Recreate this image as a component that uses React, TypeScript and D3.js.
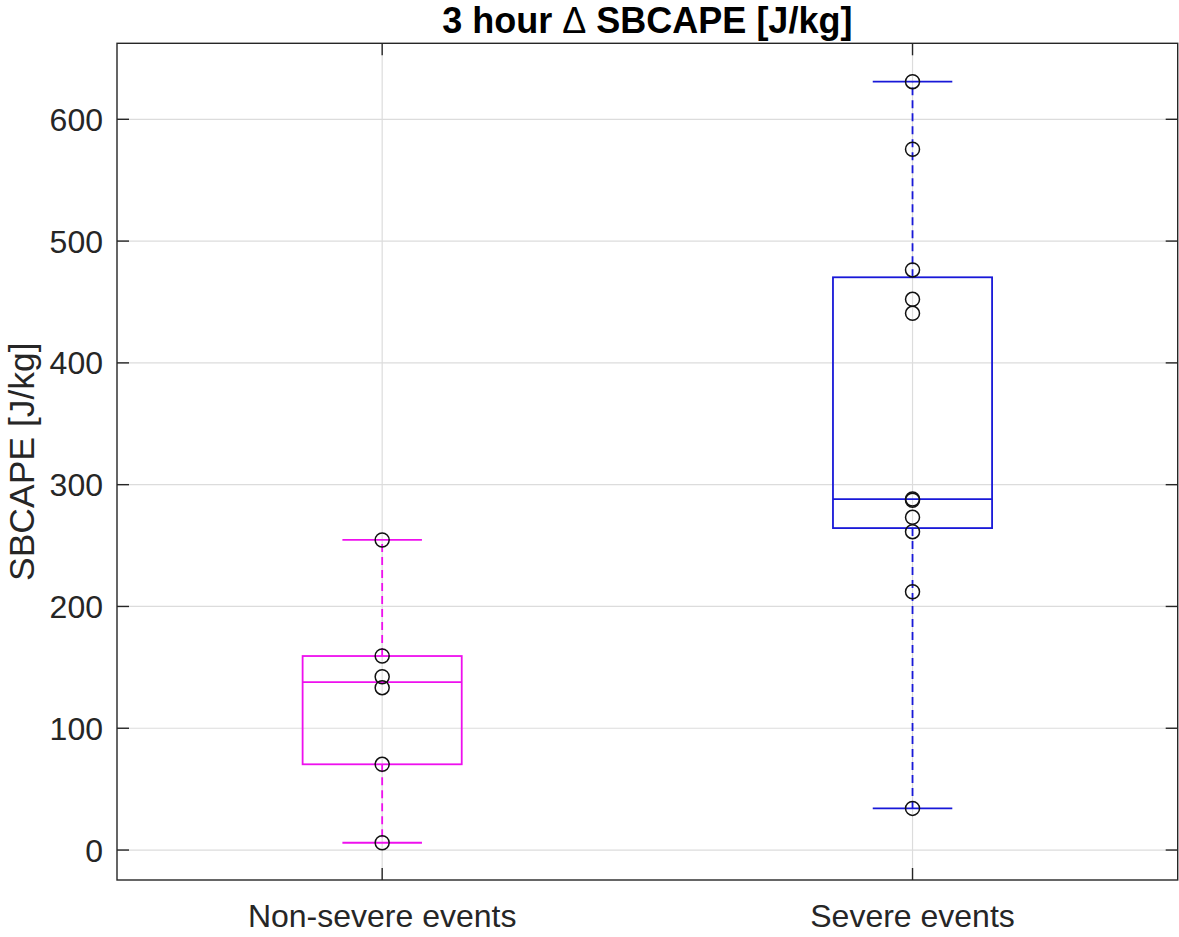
import React from "react";
import * as d3 from "d3";

// Group names and the per-event 3-hour change in SBCAPE [J/kg]
const categories = ["Non-severe events", "Severe events"];
const nonSevereValues = [6.0, 70.4, 133.3, 142.3, 159.3, 254.6];
const severeValues = [34.2, 212.1, 261.4, 273.2, 287.2, 288.2, 440.7, 452.2, 476.3, 575.4, 630.9];
const seriesValues = [nonSevereValues, severeValues];
const boxColors = ["#ee10ee", "#1818d8"];
const yTicks = [0, 100, 200, 300, 400, 500, 600];
const yDomain = [-24.6, 662.4];

const W = 1179;
const H = 937;
const margin = { left: 117, top: 43.3, right: 1177.7, bottom: 880 };
const ink = "#262626";
const gridColor = "#dcdcdc";
const font = "'Liberation Sans', Arial, Helvetica, sans-serif";

// Percentile as computed by MATLAB's boxplot (midpoint interpolation)
function prctile(sorted: number[], p: number): number {
  const n = sorted.length;
  const pos = p * n + 0.5;
  if (pos <= 1) return sorted[0];
  if (pos >= n) return sorted[n - 1];
  const lo = Math.floor(pos);
  const frac = pos - lo;
  return sorted[lo - 1] + frac * (sorted[lo] - sorted[lo - 1]);
}

function boxStats(values: number[]) {
  const s = [...values].sort((a, b) => a - b);
  const q1 = prctile(s, 0.25);
  const med = prctile(s, 0.5);
  const q3 = prctile(s, 0.75);
  const iqr = q3 - q1;
  const lowFence = q1 - 1.5 * iqr;
  const highFence = q3 + 1.5 * iqr;
  const lo = d3.min(s.filter((v) => v >= lowFence)) as number;
  const hi = d3.max(s.filter((v) => v <= highFence)) as number;
  return { q1, med, q3, lo, hi };
}

export default function App() {
  const x = d3.scaleLinear().domain([0.5, 2.5]).range([margin.left, margin.right]);
  const y = d3.scaleLinear().domain(yDomain).range([margin.bottom, margin.top]);
  const boxHalf = 0.15;
  const capHalf = 0.075;
  const tickLen = 12;

  return (
    <svg
      width={W}
      height={H}
      style={{ position: "absolute", left: 0, top: 0, background: "#fff" }}
      fontFamily={font}
    >
      <rect x={0} y={0} width={W} height={H} fill="#fff" />
      {/* grid */}
      {yTicks.map((t) => (
        <line key={"gy" + t} x1={margin.left} x2={margin.right} y1={y(t)} y2={y(t)} stroke={gridColor} strokeWidth={1.2} />
      ))}
      {categories.map((c, i) => (
        <line key={"gx" + c} x1={x(i + 1)} x2={x(i + 1)} y1={margin.top} y2={margin.bottom} stroke={gridColor} strokeWidth={1.2} />
      ))}

      {/* boxes */}
      {seriesValues.map((vals, i) => {
        const st = boxStats(vals);
        const cx = x(i + 1);
        const col = boxColors[i];
        const bl = x(i + 1 - boxHalf);
        const br = x(i + 1 + boxHalf);
        const cl = x(i + 1 - capHalf);
        const cr = x(i + 1 + capHalf);
        return (
          <g key={"box" + i} stroke={col} strokeWidth={1.8} fill="none">
            <line x1={cx} x2={cx} y1={y(st.q3)} y2={y(st.hi)} strokeDasharray="8,5" />
            <line x1={cx} x2={cx} y1={y(st.q1)} y2={y(st.lo)} strokeDasharray="8,5" />
            <line x1={cl} x2={cr} y1={y(st.hi)} y2={y(st.hi)} />
            <line x1={cl} x2={cr} y1={y(st.lo)} y2={y(st.lo)} />
            <rect x={bl} y={y(st.q3)} width={br - bl} height={y(st.q1) - y(st.q3)} />
            <line x1={bl} x2={br} y1={y(st.med)} y2={y(st.med)} />
          </g>
        );
      })}

      {/* individual events */}
      {seriesValues.map((vals, i) =>
        vals.map((v, j) => (
          <circle key={"p" + i + "-" + j} cx={x(i + 1)} cy={y(v)} r={7} fill="none" stroke="#111" strokeWidth={1.5} />
        ))
      )}

      {/* frame and ticks */}
      <rect
        x={margin.left}
        y={margin.top}
        width={margin.right - margin.left}
        height={margin.bottom - margin.top}
        fill="none"
        stroke={ink}
        strokeWidth={1.4}
      />
      {yTicks.map((t) => (
        <g key={"ty" + t} stroke={ink} strokeWidth={1.4}>
          <line x1={margin.left} x2={margin.left + tickLen} y1={y(t)} y2={y(t)} />
          <line x1={margin.right} x2={margin.right - tickLen} y1={y(t)} y2={y(t)} />
        </g>
      ))}
      {categories.map((c, i) => (
        <g key={"tx" + c} stroke={ink} strokeWidth={1.4}>
          <line x1={x(i + 1)} x2={x(i + 1)} y1={margin.bottom} y2={margin.bottom - tickLen} />
          <line x1={x(i + 1)} x2={x(i + 1)} y1={margin.top} y2={margin.top + tickLen} />
        </g>
      ))}

      {/* tick labels */}
      {yTicks.map((t) => (
        <text key={"ly" + t} x={103} y={y(t)} dy="0.36em" textAnchor="end" fontSize={32} fill={ink}>
          {t}
        </text>
      ))}
      {categories.map((c, i) => (
        <text key={"lx" + c} x={x(i + 1)} y={926.5} textAnchor="middle" fontSize={32} fill={ink}>
          {c}
        </text>
      ))}

      {/* axis label and title */}
      <text
        transform={`translate(33.5, ${(margin.top + margin.bottom) / 2}) rotate(-90)`}
        textAnchor="middle"
        fontSize={35.5}
        fill={ink}
      >
        SBCAPE [J/kg]
      </text>
      <text
        x={(margin.left + margin.right) / 2}
        y={33}
        textAnchor="middle"
        fontSize={36}
        fontWeight="bold"
        fill="#000"
      >
        3 hour <tspan fontWeight="normal">Δ</tspan> SBCAPE [J/kg]
      </text>
    </svg>
  );
}
